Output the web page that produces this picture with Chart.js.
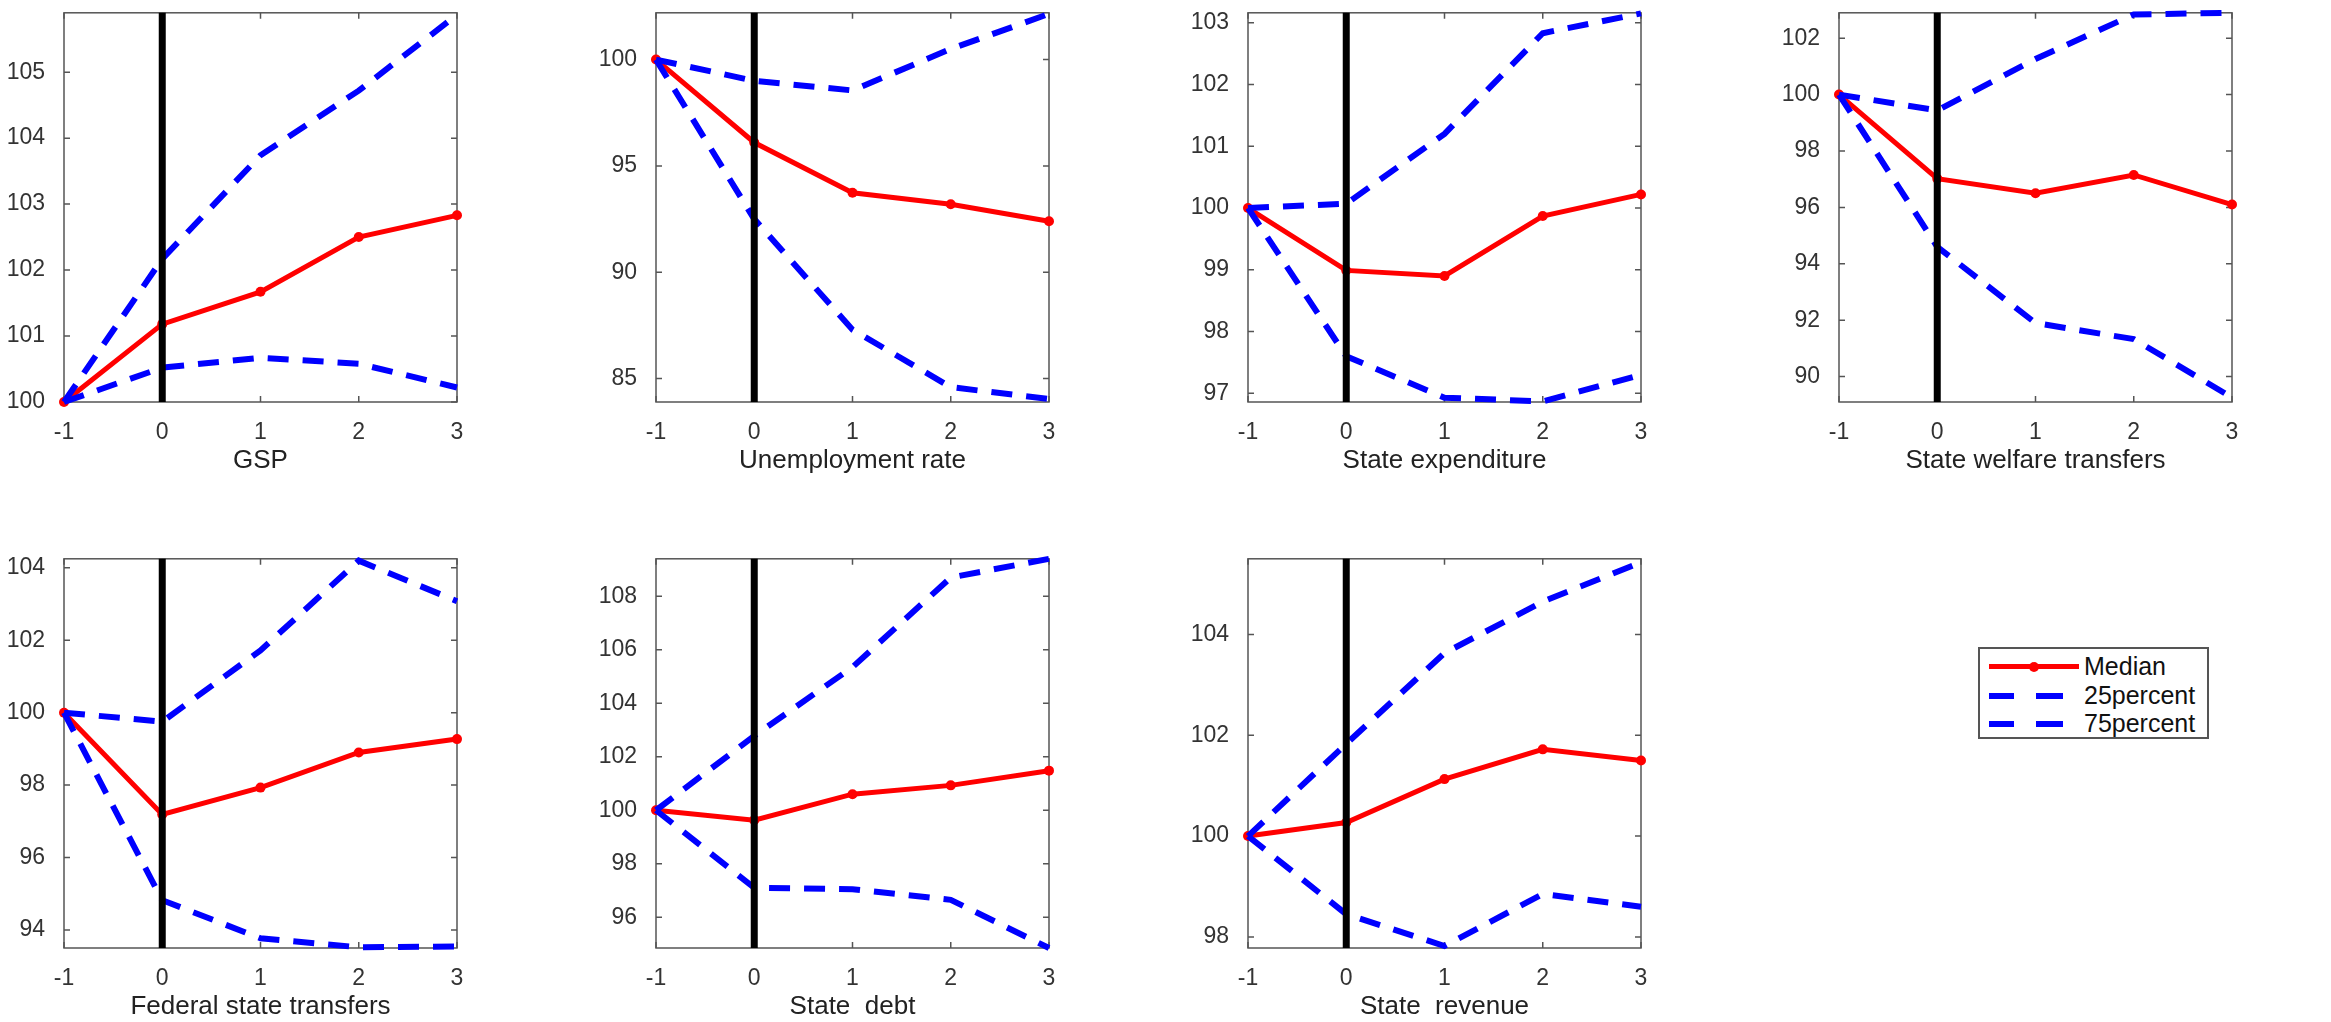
<!DOCTYPE html>
<html>
<head>
<meta charset="utf-8">
<script src="https://cdn.jsdelivr.net/npm/chart.js@4.4.0/dist/chart.umd.min.js"></script>
<style>
  body { margin: 0; background: #fff; width: 2331px; height: 1022px; overflow: hidden; position: relative;
         font-family: "Liberation Sans", Arial, sans-serif; }
  canvas { position: absolute; }
  #legend { position: absolute; left: 1978px; top: 647px; width: 227px; height: 88px; border: 2px solid #555; background: #fff; }
  #legend .txt { position: absolute; left: 104px; font-size: 25px; line-height: 28px; color: #111; }
  #legend .seg { position: absolute; height: 5px; }
  #legend .dot { position: absolute; width: 10px; height: 10px; border-radius: 50%; background: #ff0000; }
</style>
</head>
<body>
<div id="legend">
  <div class="seg" style="left:9px; width:90px; top:15px; background:#ff0000;"></div>
  <div class="dot" style="left:49px; top:13px;"></div>
  <div class="txt" style="top:3px;">Median</div>
  <div class="seg" style="left:9px; width:25px; top:44px; height:6px; background:#0000ff;"></div>
  <div class="seg" style="left:56px; width:27px; top:44px; height:6px; background:#0000ff;"></div>
  <div class="txt" style="top:32px;">25percent</div>
  <div class="seg" style="left:9px; width:25px; top:72px; height:6px; background:#0000ff;"></div>
  <div class="seg" style="left:56px; width:27px; top:72px; height:6px; background:#0000ff;"></div>
  <div class="txt" style="top:60px;">75percent</div>
</div>
<script>
// horizons on the x axis
const horizons = [-1, 0, 1, 2, 3];

const titles = ['GSP', 'Unemployment rate', 'State expenditure', 'State welfare transfers',
                'Federal state transfers', 'State  debt', 'State  revenue'];

// median responses
const gspMedian     = [100, 101.18, 101.67, 102.50, 102.83];
const unempMedian   = [100, 96.10, 93.74, 93.20, 92.40];
const expendMedian  = [100, 98.99, 98.90, 99.87, 100.22];
const welfareMedian = [100, 97.02, 96.50, 97.15, 96.10];
const federalMedian = [100, 97.19, 97.93, 98.90, 99.27];
const debtMedian    = [100, 99.63, 100.60, 100.93, 101.48];
const revenueMedian = [100, 100.27, 101.13, 101.72, 101.50];

// 25th percentile (lower band)
const gspP25     = [100, 100.52, 100.67, 100.58, 100.22];
const unempP25   = [100, 92.50, 87.30, 84.60, 84.04];
const expendP25  = [100, 97.60, 96.93, 96.87, 97.30];
const welfareP25 = [100, 94.60, 91.90, 91.33, 89.26];
const federalP25 = [100, 94.82, 93.77, 93.52, 93.54];
const debtP25    = [100, 97.10, 97.05, 96.65, 94.85];
const revenueP25 = [100, 98.45, 97.82, 98.85, 98.60];

// 75th percentile (upper band)
const gspP75     = [100, 102.17, 103.74, 104.72, 105.87];
const unempP75   = [100, 99.00, 98.55, 100.50, 102.15];
const expendP75  = [100, 100.07, 101.20, 102.83, 103.15];
const welfareP75 = [100, 99.44, 101.26, 102.84, 102.90];
const federalP75 = [100, 99.75, 101.72, 104.20, 103.08];
const debtP75    = [100, 102.78, 105.35, 108.70, 109.40];
const revenueP75 = [100, 101.83, 103.63, 104.65, 105.43];

// y axis limits and tick labels per panel
const yMins = [100, 83.9, 96.86, 89.1, 93.5, 94.85, 97.78];
const yMaxs = [105.9, 102.2, 103.16, 102.9, 104.25, 109.4, 105.5];
const gspTicks     = [100, 101, 102, 103, 104, 105];
const unempTicks   = [85, 90, 95, 100];
const expendTicks  = [97, 98, 99, 100, 101, 102, 103];
const welfareTicks = [90, 92, 94, 96, 98, 100, 102];
const federalTicks = [94, 96, 98, 100, 102, 104];
const debtTicks    = [96, 98, 100, 102, 104, 106, 108];
const revenueTicks = [98, 100, 102, 104];

const medians = [gspMedian, unempMedian, expendMedian, welfareMedian, federalMedian, debtMedian, revenueMedian];
const lowers  = [gspP25, unempP25, expendP25, welfareP25, federalP25, debtP25, revenueP25];
const uppers  = [gspP75, unempP75, expendP75, welfareP75, federalP75, debtP75, revenueP75];
const yTicks  = [gspTicks, unempTicks, expendTicks, welfareTicks, federalTicks, debtTicks, revenueTicks];

// panel placement (plot area corners)
const colLeft = [64, 656, 1248, 1839];
const rowTop = [8, 554];
const plotW = 393, plotH = 394;
const axisW = 62, axisH = 80, padTop = 20, padRight = 25;

Chart.defaults.font.family = '"Liberation Sans", Arial, sans-serif';
Chart.defaults.font.size = 23;
Chart.defaults.color = '#333';

// box around the plot with inward tick marks on all four sides
const frame = {
    id: 'frame',
    beforeDatasetsDraw(chart) {
        const { ctx, chartArea: a, scales: { x, y } } = chart;
        ctx.save();
        ctx.strokeStyle = '#555';
        ctx.lineWidth = 1.5;
        ctx.strokeRect(a.left, a.top, a.width, a.height);
        ctx.beginPath();
        x.ticks.forEach(t => {
            const px = x.getPixelForValue(t.value);
            ctx.moveTo(px, a.bottom); ctx.lineTo(px, a.bottom - 6);
            ctx.moveTo(px, a.top); ctx.lineTo(px, a.top + 6);
        });
        y.ticks.forEach(t => {
            const py = y.getPixelForValue(t.value);
            ctx.moveTo(a.left, py); ctx.lineTo(a.left + 6, py);
            ctx.moveTo(a.right, py); ctx.lineTo(a.right - 6, py);
        });
        ctx.stroke();
        ctx.restore();
    }
};

const toPoints = arr => arr.map((v, i) => ({ x: horizons[i], y: v }));

titles.forEach((title, i) => {
    const L = colLeft[i % 4];
    const T = rowTop[Math.floor(i / 4)];
    const canvas = document.createElement('canvas');
    canvas.width = axisW + plotW + padRight;
    canvas.height = padTop + plotH + axisH;
    canvas.style.left = (L - axisW) + 'px';
    canvas.style.top = (T - padTop) + 'px';
    document.body.appendChild(canvas);

    new Chart(canvas, {
        type: 'line',
        data: {
            datasets: [
                {
                    label: 'zero',
                    data: [{ x: 0, y: yMins[i] }, { x: 0, y: yMaxs[i] }],
                    borderColor: '#000', borderWidth: 7, pointRadius: 0, order: 0, clip: false
                },
                {
                    label: '75percent',
                    data: toPoints(uppers[i]),
                    borderColor: '#0000ff', borderWidth: 6, borderDash: [21, 14], pointRadius: 0, order: 1, clip: 4
                },
                {
                    label: '25percent',
                    data: toPoints(lowers[i]),
                    borderColor: '#0000ff', borderWidth: 6, borderDash: [21, 14], pointRadius: 0, order: 2, clip: 4
                },
                {
                    label: 'Median',
                    data: toPoints(medians[i]),
                    borderColor: '#ff0000', borderWidth: 5,
                    pointRadius: 5, pointBackgroundColor: '#ff0000', pointBorderWidth: 0,
                    order: 3, clip: false
                }
            ]
        },
        options: {
            responsive: false,
            animation: false,
            devicePixelRatio: 1,
            layout: { padding: { top: padTop, right: padRight, left: 0, bottom: 0 } },
            plugins: { legend: { display: false }, tooltip: { enabled: false } },
            scales: {
                x: {
                    type: 'linear', min: -1, max: 3,
                    grid: { display: false }, border: { display: false },
                    ticks: { padding: 9, callback: v => String(v) },
                    afterBuildTicks: s => { s.ticks = horizons.map(v => ({ value: v })); },
                    afterFit: s => { s.height = axisH; },
                    title: { display: true, text: title, color: '#222', font: { size: 26 }, padding: { top: 0, bottom: 6 } }
                },
                y: {
                    min: yMins[i], max: yMaxs[i],
                    grid: { display: false }, border: { display: false },
                    ticks: { padding: 11, callback: v => String(v) },
                    afterBuildTicks: s => { s.ticks = yTicks[i].map(v => ({ value: v })); },
                    afterFit: s => { s.width = axisW; }
                }
            }
        },
        plugins: [frame]
    });
});
</script>
</body>
</html>
